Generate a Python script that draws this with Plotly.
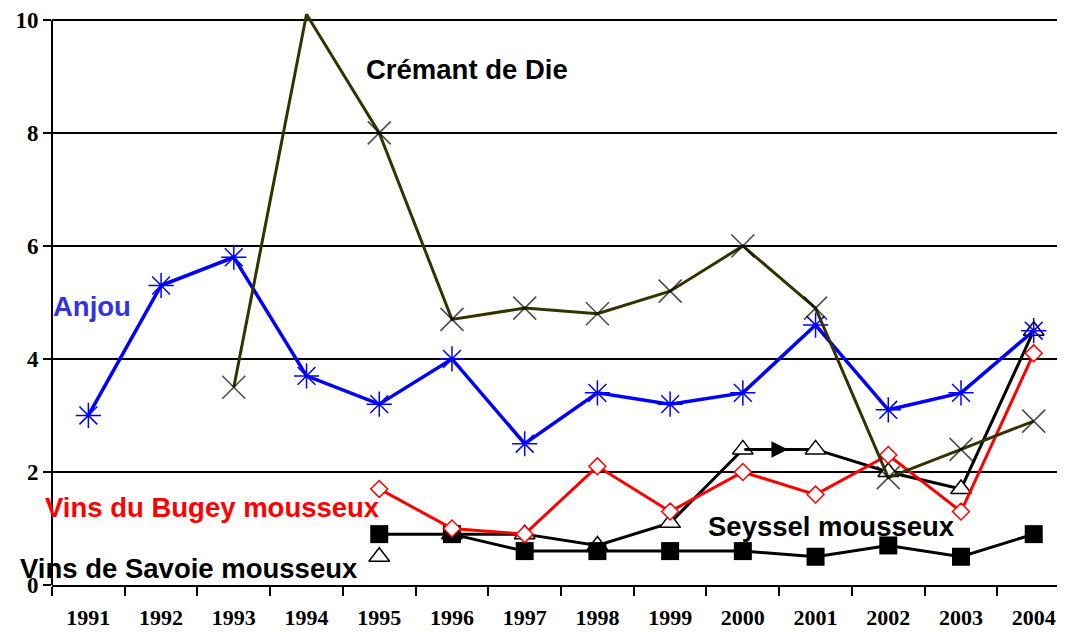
import plotly.graph_objects as go

years = ["1991", "1992", "1993", "1994", "1995", "1996", "1997",
         "1998", "1999", "2000", "2001", "2002", "2003", "2004"]

anjou = [3.0, 5.3, 5.8, 3.7, 3.2, 4.0, 2.5, 3.4, 3.2, 3.4, 4.6, 3.1, 3.4, 4.5]
cremant = [None, None, 3.5, 10.1, 8.0, 4.7, 4.9, 4.8, 5.2, 6.0, 4.9, 1.9, 2.4, 2.9]
bugey = [None, None, None, None, 1.7, 1.0, 0.9, 2.1, 1.3, 2.0, 1.6, 2.3, 1.3, 4.1]
savoie = [None, None, None, None, 0.5, 0.9, 0.9, 0.7, 1.1, 2.4, 2.4, 2.0, 1.7, 4.5]
seyssel = [None, None, None, None, 0.9, 0.9, 0.6, 0.6, 0.6, 0.6, 0.5, 0.7, 0.5, 0.9]

yticks = [0, 2, 4, 6, 8, 10]

fig = go.Figure()

# Vins de Savoie mousseux: isolated 1995 point, then connected line from 1996
fig.add_trace(go.Scatter(
    x=years[4:5], y=savoie[4:5], mode="markers",
    marker=dict(symbol="triangle-up", size=18, color="white",
                line=dict(color="black", width=1.5)),
    showlegend=False))
fig.add_trace(go.Scatter(
    x=years[5:], y=savoie[5:], mode="lines+markers",
    line=dict(color="black", width=3),
    marker=dict(symbol="triangle-up", size=18, color="white",
                line=dict(color="black", width=1.5)),
    showlegend=False))

# small arrowhead drawn on the 2000-2001 segment
i2000 = years.index("2000")
fig.add_annotation(x=i2000 + 0.62, y=savoie[i2000], ax=i2000, ay=savoie[i2000],
                   xref="x", yref="y", axref="x", ayref="y", text="",
                   showarrow=True, arrowhead=2, arrowsize=1.1, arrowwidth=3,
                   arrowcolor="black")

# Seyssel mousseux squares
fig.add_trace(go.Scatter(
    x=years, y=seyssel, mode="lines+markers",
    line=dict(color="black", width=3),
    marker=dict(symbol="square", size=18, color="black"),
    showlegend=False))

# Vins du Bugey
fig.add_trace(go.Scatter(
    x=years, y=bugey, mode="lines+markers",
    line=dict(color="#ff0000", width=3),
    marker=dict(symbol="diamond", size=13, color="white",
                line=dict(color="#ff0000", width=1.5)),
    showlegend=False))

# Anjou
fig.add_trace(go.Scatter(
    x=years, y=anjou, mode="lines+markers",
    line=dict(color="#0000ff", width=3.5),
    marker=dict(symbol="asterisk-open", size=21, color="#0000ff",
                line=dict(color="#0000ff", width=1.5)),
    showlegend=False))

# Crémant de Die
cremant_sizes = [0 if (v is not None and v > 10) else 23 for v in cremant]
fig.add_trace(go.Scatter(
    x=years, y=cremant, mode="lines+markers",
    line=dict(color="#333300", width=3),
    marker=dict(symbol="x-thin-open", size=cremant_sizes, color="black",
                line=dict(color="black", width=1.6)),
    showlegend=False))

# y-axis line from 0 to 10
fig.add_shape(type="line", xref="paper", yref="y", x0=0, x1=0, y0=0, y1=10,
              line=dict(color="black", width=2))

ann_font = dict(family="Liberation Sans, Arial", size=27.5)
labels = [
    ("Crémant de Die", "1996", 9.13, "black", 0.21),
    ("Anjou", "1991", 4.92, "#3333dd", 0.05),
    ("Vins du Bugey mousseux", "1993", 1.38, "#ff0000", -0.29),
    ("Seyssel mousseux", "2001", 1.03, "black", 0.22),
    ("Vins de Savoie mousseux", "1993", 0.3, "black", -0.61),
]
for text, xc, yv, col, shift in labels:
    idx = years.index(xc)
    fig.add_annotation(x=idx + shift, y=yv, xref="x", yref="y", text=f"<b>{text}</b>",
                       showarrow=False, font=dict(ann_font, color=col))

fig.update_layout(
    width=1057, height=627,
    margin=dict(l=44, r=0, t=4, b=50),
    paper_bgcolor="white", plot_bgcolor="white",
    font=dict(family="Liberation Serif, Times New Roman", color="black"),
    xaxis=dict(
        type="category", categoryorder="array", categoryarray=years,
        range=[-0.5, 13.43], automargin=False, ticklabeloverflow="allow",
        tickson="boundaries", ticks="outside", ticklen=9, tickwidth=2, tickcolor="black",
        ticklabelstandoff=12,
        showline=True, linecolor="black", linewidth=2,
        showgrid=False, zeroline=False,
        tickvals=years, ticktext=[f"<b>{y}</b>" for y in years],
        tickfont=dict(family="Liberation Serif, Times New Roman", size=22),
    ),
    yaxis=dict(
        range=[0, 10.14], tickvals=yticks, ticktext=[f"<b>{t}</b>" for t in yticks],
        automargin=False, ticklabeloverflow="allow",
        showgrid=True, gridcolor="black", gridwidth=1.5,
        showline=False, zeroline=False,
        ticks="outside", ticklen=8, tickwidth=1.5, tickcolor="black",
        tickfont=dict(family="Liberation Serif, Times New Roman", size=23),
    ),
)

fig.write_html("out.html")
